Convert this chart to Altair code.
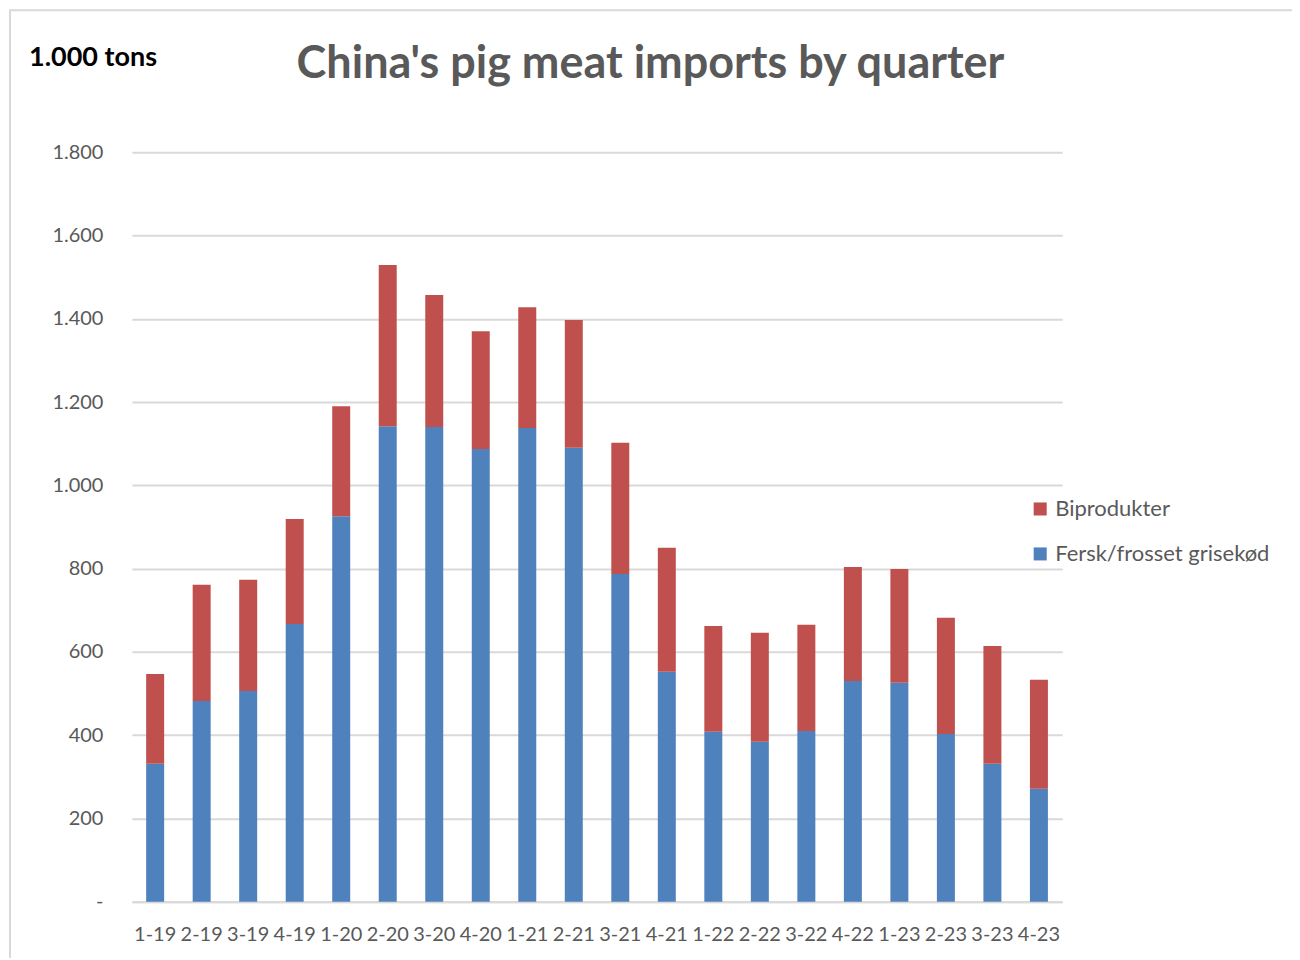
import altair as alt
import pandas as pd

quarters = ["1-19", "2-19", "3-19", "4-19", "1-20", "2-20", "3-20", "4-20",
            "1-21", "2-21", "3-21", "4-21", "1-22", "2-22", "3-22", "4-22",
            "1-23", "2-23", "3-23", "4-23"]
fersk = [331, 482, 506, 667, 926, 1142, 1140, 1087, 1138, 1090,
         787, 552, 408, 384, 410, 530, 526, 403, 331, 271]
total = [547, 761, 773, 919, 1190, 1529, 1457, 1370, 1428, 1397,
         1102, 850, 662, 646, 665, 804, 799, 682, 614, 533]
biprodukter = [t - f for t, f in zip(total, fersk)]

series = ["Biprodukter", "Fersk/frosset grisekød"]
colors = ["#C0504D", "#4F81BD"]
title_text = "China's pig meat imports by quarter"
unit_text = "1.000 tons"

rows = []
for q, f, b in zip(quarters, fersk, biprodukter):
    rows.append({"quarter": q, "series": series[1], "value": f, "ord": 0})
    rows.append({"quarter": q, "series": series[0], "value": b, "ord": 1})
df = pd.DataFrame(rows)

FONT = "Lato"
GRAY = "#595959"

bars = alt.Chart(df).mark_bar(size=18).encode(
    x=alt.X("quarter:N", sort=quarters, title=None,
            axis=alt.Axis(labelAngle=0, ticks=False, domainColor="#D9D9D9",
                          domainWidth=2, labelFontSize=20, labelColor=GRAY,
                          labelPadding=23, labelFont=FONT, labelOverlap=False)),
    y=alt.Y("value:Q", stack="zero", title=None,
            scale=alt.Scale(domain=[0, 1800], nice=False),
            axis=alt.Axis(values=list(range(0, 1801, 200)), ticks=False, domain=False,
                          gridColor="#D9D9D9", gridWidth=2,
                          labelFontSize=20, labelColor=GRAY, labelFont=FONT,
                          labelPadding=29,
                          labelExpr="datum.value == 0 ? '-' : replace(format(datum.value, ','), ',', '.')")),
    color=alt.Color("series:N", scale=alt.Scale(domain=series, range=colors),
                    legend=alt.Legend(title=None, orient="none", legendX=898, legendY=346,
                                      symbolType="square", symbolSize=170,
                                      labelFontSize=22, labelColor=GRAY, labelFont=FONT,
                                      labelLimit=0,
                                      rowPadding=23, labelOffset=4, symbolStrokeWidth=0)),
    order=alt.Order("ord:Q"),
)

frame = alt.Chart(pd.DataFrame({"a": [0]})).mark_rect(
    fill=None, stroke="#D9D9D9", strokeWidth=2
).encode(
    x=alt.value(-122), x2=alt.value(1163), y=alt.value(-142), y2=alt.value(812)
)

unit = alt.Chart(pd.DataFrame({"t": [unit_text]})).mark_text(
    align="left", baseline="middle", fontSize=27, fontWeight="bold",
    color="#000000", font=FONT
).encode(x=alt.value(-103), y=alt.value(-94), text="t:N")

title = alt.Chart(pd.DataFrame({"t": [title_text]})).mark_text(
    align="center", baseline="middle", fontSize=45, fontWeight="bold",
    color=GRAY, font=FONT
).encode(x=alt.value(519), y=alt.value(-88), text="t:N")

chart = alt.layer(frame, bars, unit, title).properties(
    width=931, height=750,
    autosize=alt.AutoSizeParams(type="none"),
    padding={"left": 124, "top": 144, "right": 230, "bottom": 56},
).configure_view(stroke=None)

chart.save("out.html", embed_options={"renderer": "svg", "actions": False})
